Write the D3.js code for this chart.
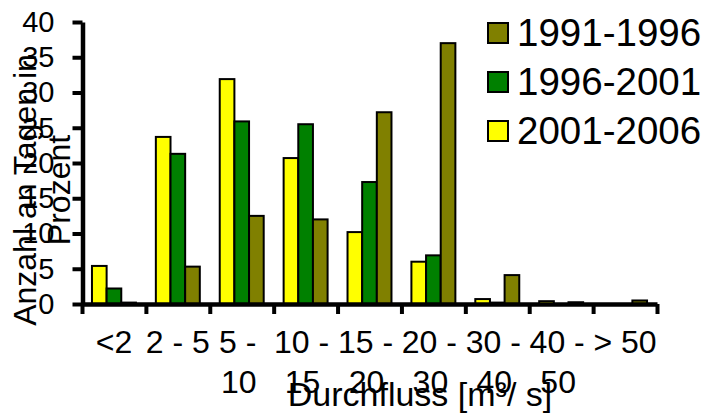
<!DOCTYPE html>
<html>
<head>
<meta charset="utf-8">
<script src="https://cdn.jsdelivr.net/npm/d3@7"></script>
<style>
    body { margin: 0; background: #fff; }
    svg { display: block; font-family: 'Liberation Sans', Arial, sans-serif; }
</style>
</head>
<body>
<div id="container"></div>
<script>
var categories = ['<2', '2 - 5', '5 - 10', '10 - 15', '15 - 20', '20 - 30', '30 - 40', '40 - 50', '> 50'];
var seriesNames = ['2001-2006', '1996-2001', '1991-1996'];
var values2001 = [5.4, 23.7, 31.9, 20.7, 10.2, 6.0, 0.7, 0.4, 0];
var values1996 = [2.2, 21.3, 25.9, 25.5, 17.3, 6.9, 0.2, 0, 0];
var values1991 = [0.2, 5.3, 12.5, 12.0, 27.2, 37.0, 4.1, 0.25, 0.5];
var seriesColors = ['#ffff00', '#008000', '#808000'];
var yTicks = [0, 5, 10, 15, 20, 25, 30, 35, 40];
var legendOrder = ['1991-1996', '1996-2001', '2001-2006'];

var width = 706;
var height = 415;

var svg = d3.select('#container').append('svg')
    .attr('width', width).attr('height', height);

var x0 = d3.scaleBand().domain(categories).range([82, 657]).padding(0);
var x1 = d3.scaleBand().domain(seriesNames).range([0, x0.bandwidth()])
    .paddingInner(0).paddingOuter(0.68);
var y = d3.scaleLinear().domain([0, 40]).range([304, 22]);
var color = d3.scaleOrdinal().domain(seriesNames).range(seriesColors);

var allValues = [values2001, values1996, values1991];
var rows = [];
categories.forEach(function(c, i){
    seriesNames.forEach(function(s, j){
        rows.push({cat: c, series: s, value: allValues[j][i]});
    });
});

// bars
svg.append('g').selectAll('rect').data(rows).enter().append('rect')
    .attr('x', function(d){ return x0(d.cat) + x1(d.series); })
    .attr('y', function(d){ return y(d.value); })
    .attr('width', x1.bandwidth())
    .attr('height', function(d){ return y(0) - y(d.value); })
    .attr('fill', function(d){ return color(d.series); })
    .attr('stroke', '#000')
    .attr('stroke-width', 2);

// y axis
var yAxis = svg.append('g')
    .attr('transform', 'translate(82.5,0)')
    .call(d3.axisLeft(y).tickValues(yTicks).tickSize(10).tickSizeOuter(0).tickPadding(18));
yAxis.select('.domain').attr('stroke-width', 4.5);
yAxis.selectAll('.tick line').attr('stroke-width', 4);
yAxis.selectAll('.tick text').attr('font-size', 29).attr('fill', '#000')
    .attr('font-family', "'Liberation Sans', Arial, sans-serif");

// x axis, ticks on category borders
var xb = d3.scaleLinear().domain([0, categories.length]).range(x0.range());
var xAxis = svg.append('g')
    .attr('transform', 'translate(0,' + y(0) + ')')
    .call(d3.axisBottom(xb).ticks(categories.length).tickSize(10).tickSizeOuter(0).tickFormat(''));
xAxis.select('.domain').attr('stroke-width', 4.5);
xAxis.selectAll('.tick line').attr('stroke-width', 4);

// category labels, wrapped like the original
var labels = svg.append('g').attr('font-size', 32).attr('text-anchor', 'middle');
categories.forEach(function(c){
    var cx = x0(c) + x0.bandwidth() / 2;
    var t = labels.append('text').attr('x', cx).attr('y', 353).text(c);
    if(t.node().getComputedTextLength() > x0.bandwidth() + 4 && c.indexOf(' - ') > 0){
        var parts = c.split(' - ');
        t.text(parts[0] + ' -').attr('x', cx - 4);
        labels.append('text').attr('x', cx - 3).attr('y', 393).text(parts[1]);
    }
});

// axis titles
svg.append('text')
    .attr('x', 420).attr('y', 406)
    .attr('text-anchor', 'middle').attr('font-size', 34)
    .text('Durchfluss [m³/ s]');

var yTitle = svg.append('text')
    .attr('transform', 'translate(36,190) rotate(-90)')
    .attr('text-anchor', 'middle').attr('font-size', 32);
yTitle.append('tspan').attr('x', 0).attr('y', 0).text('Anzahl an Tagen in');
yTitle.append('tspan').attr('x', 0).attr('y', 34).text('Prozent');

// legend
var legend = svg.append('g').selectAll('g').data(legendOrder).enter().append('g')
    .attr('transform', function(d, i){ return 'translate(488,' + (23 + i * 49) + ')'; });
legend.append('rect')
    .attr('width', 20).attr('height', 20)
    .attr('fill', function(d){ return color(d); })
    .attr('stroke', '#000').attr('stroke-width', 2);
legend.append('text')
    .attr('x', 29).attr('y', 22.5)
    .attr('font-size', 38.5)
    .text(function(d){ return d; });
</script>
</body>
</html>
